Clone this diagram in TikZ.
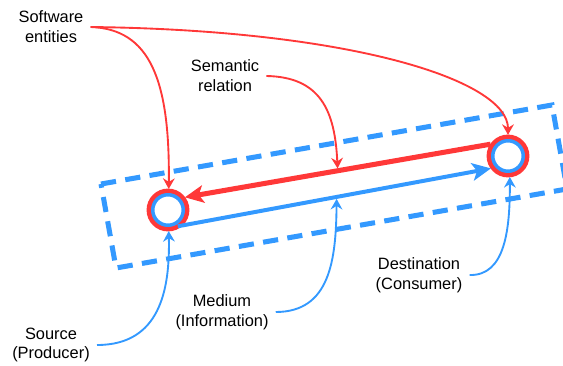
\documentclass[tikz,border=0pt]{standalone}
\usepackage{fontspec}
\setmainfont{Liberation Sans}
\usetikzlibrary{arrows.meta}
\definecolor{relred}{RGB}{255,56,56}
\definecolor{medblue}{RGB}{51,153,255}

\begin{document}
\begin{tikzpicture}[x=0.03cm, y=-0.03cm,
 end node/.style={circle, draw=medblue, fill=white, line width=3pt,
   minimum size=0.915cm, inner sep=0pt, outer sep=5pt,
   preaction={draw=relred, line width=10.5pt}},
 text node/.style={align=center, inner sep=6pt, font=\fontsize{14}{17}\selectfont},
 pointer/.style={line width=1.6pt, -{Stealth[length=9pt, width=10pt, inset=3pt]}},
 big arrow/.style={-{Stealth[length=16pt, width=15pt, inset=4pt]}}]

  \useasboundingbox (0,0) rectangle (563,365);

  % dashed frame round the relation
  \begin{scope}
   \clip (0,0) rectangle (563,365);
   \draw[medblue, line width=4.3pt, dash pattern=on 13pt off 8pt]
     (101,184) -- (552,105) -- (567,189) -- (116,268) -- cycle;
  \end{scope}

  \node[end node] (src) at (168,210) {};
  \node[end node] (dst) at (508,156) {};

  \node[text node] (sw)   at (51,27)  {Software\\entities};
  \node[text node] (sem)  at (225,76) {Semantic\\relation};
  \node[text node] (prod) at (51,345) {Source\\(Producer)};
  \node[text node] (med)  at (222,312) {Medium\\(Information)};
  \node[text node] (cons) at (419,275) {Destination\\(Consumer)};

  \draw[big arrow, relred, line width=4.3pt]
    (dst.146) -- coordinate[pos=.5] (rel) (src.37);
  \draw[big arrow, medblue, line width=3.4pt, shorten <=-4pt]
    (src.-47) -- coordinate[pos=.5] (info) (dst.216);

  \draw[pointer, relred] (sw.east) .. controls (150,29) and (170,80) .. (src.88);
  \draw[pointer, relred] (sw.east) .. controls (350,30) and (508,80) .. (dst.90);
  \draw[pointer, relred, shorten >=2pt] (sem.east) .. controls (320,77) and (335,110) .. (rel);

  \draw[pointer, medblue] (prod.east) .. controls (160,345) and (170,290) .. (src.-88);
  \draw[pointer, medblue, shorten >=1.7pt] (med.east) .. controls (330,312) and (336,260) .. (info);
  \draw[pointer, medblue] (cons.east) .. controls (505,276) and (510,230) .. (dst.-85);
\end{tikzpicture}
\end{document}
